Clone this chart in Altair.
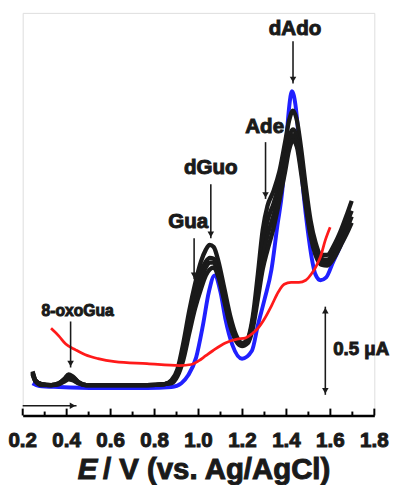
import altair as alt
import pandas as pd

# ---------------- data (E in V, current in µA, arbitrary offset) ----------------
black_E = [0.245, 0.258, 0.285, 0.329, 0.365, 0.392, 0.409, 0.427, 0.454, 0.490,
           0.588, 0.766, 0.846, 0.877, 0.904, 0.931, 0.958, 0.984, 1.011, 1.033,
           1.051, 1.069, 1.091, 1.118, 1.145, 1.171, 1.198, 1.225, 1.247, 1.270,
           1.292, 1.314, 1.341, 1.368, 1.394, 1.412, 1.430, 1.448, 1.466, 1.488,
           1.510, 1.532, 1.559, 1.586, 1.617, 1.648, 1.675, 1.697]
black_1 = [0.089, 0.039, 0.017, 0.011, 0.022, 0.050, 0.072, 0.061, 0.028, 0.011,
           0.011, 0.011, 0.017, 0.039, 0.100, 0.250, 0.433, 0.583, 0.711, 0.778,
           0.806, 0.794, 0.711, 0.556, 0.400, 0.294, 0.250, 0.278, 0.400, 0.639,
           0.889, 1.028, 1.111, 1.222, 1.389, 1.511, 1.567, 1.511, 1.361, 1.139,
           0.944, 0.822, 0.750, 0.750, 0.806, 0.889, 0.978, 1.056]
black_2 = [0.083, 0.039, 0.017, 0.011, 0.022, 0.044, 0.061, 0.056, 0.028, 0.011,
           0.011, 0.011, 0.017, 0.033, 0.089, 0.222, 0.400, 0.544, 0.656, 0.711,
           0.733, 0.728, 0.656, 0.517, 0.378, 0.283, 0.244, 0.272, 0.378, 0.583,
           0.806, 0.944, 1.039, 1.156, 1.306, 1.417, 1.461, 1.417, 1.278, 1.083,
           0.900, 0.789, 0.728, 0.722, 0.772, 0.856, 0.933, 1.000]
black_3 = [0.078, 0.033, 0.017, 0.011, 0.017, 0.039, 0.050, 0.044, 0.022, 0.011,
           0.011, 0.011, 0.017, 0.028, 0.078, 0.194, 0.361, 0.500, 0.611, 0.678,
           0.706, 0.706, 0.639, 0.500, 0.361, 0.272, 0.239, 0.261, 0.356, 0.544,
           0.733, 0.861, 0.972, 1.100, 1.261, 1.372, 1.428, 1.383, 1.250, 1.056,
           0.878, 0.767, 0.711, 0.706, 0.750, 0.828, 0.900, 0.967]
black_4 = [0.072, 0.033, 0.011, 0.011, 0.017, 0.033, 0.044, 0.039, 0.022, 0.011,
           0.011, 0.011, 0.017, 0.022, 0.061, 0.156, 0.306, 0.444, 0.556, 0.633,
           0.667, 0.678, 0.622, 0.483, 0.344, 0.261, 0.233, 0.250, 0.333, 0.500,
           0.667, 0.778, 0.900, 1.056, 1.222, 1.344, 1.400, 1.361, 1.222, 1.028,
           0.856, 0.750, 0.694, 0.689, 0.733, 0.806, 0.872, 0.933]

blue_E = [0.245, 0.276, 0.365, 0.543, 0.766, 0.877, 0.922, 0.953, 0.989, 1.020,
          1.047, 1.073, 1.100, 1.122, 1.154, 1.198, 1.243, 1.270, 1.301, 1.332,
          1.359, 1.381, 1.399, 1.412, 1.425, 1.443, 1.461, 1.479, 1.497, 1.515,
          1.532, 1.555, 1.581, 1.613, 1.648, 1.693]
blue_I = [0.022, 0.006, 0.000, -0.006, -0.006, 0.000, 0.022, 0.067, 0.167, 0.350,
          0.539, 0.633, 0.539, 0.389, 0.239, 0.161, 0.206, 0.350, 0.500, 0.667,
          0.917, 1.111, 1.389, 1.583, 1.678, 1.583, 1.333, 1.083, 0.889, 0.733,
          0.639, 0.606, 0.622, 0.711, 0.806, 0.928]

red_E = [0.329, 0.365, 0.396, 0.441, 0.485, 0.543, 0.619, 0.766, 0.913, 0.967,
         1.002, 1.033, 1.065, 1.122, 1.176, 1.212, 1.247, 1.270, 1.301, 1.332,
         1.363, 1.390, 1.421, 1.457, 1.488, 1.515, 1.537, 1.555, 1.577, 1.599]
red_I = [0.333, 0.289, 0.244, 0.211, 0.183, 0.161, 0.144, 0.133, 0.122, 0.128,
         0.150, 0.178, 0.206, 0.250, 0.272, 0.278, 0.306, 0.333, 0.389, 0.461,
         0.539, 0.583, 0.594, 0.594, 0.606, 0.644, 0.689, 0.739, 0.833, 0.906]

# annotations
peak_labels = ["dAdo", "Ade", "dGuo", "Gua"]
peak_label_E = [1.439, 1.301, 1.056, 0.953]
peak_label_I = [2.028, 1.472, 1.239, 0.933]
arrow_E = [1.430, 1.305, 1.056, 0.980, 0.418]
arrow_top = [1.961, 1.389, 1.150, 0.844, 0.372]
arrow_tip = [1.722, 1.067, 0.844, 0.611, 0.111]
oxo_label = ["8-oxoGua"]
oxo_E = [0.450]
oxo_I = [0.428]
scalebar_E = [1.577]
scalebar_lo = [-0.044]
scalebar_hi = [0.456]
scalebar_text = ["0.5 \u03bcA"]
scalebar_text_E = [1.613]
scalebar_text_I = [0.217]
sweep_start = [0.2]
sweep_end = [0.445]
sweep_I = [-0.106]

tick_major = [0.2, 0.4, 0.6, 0.8, 1.0, 1.2, 1.4, 1.6, 1.8]
tick_labels = ["0.2", "0.4", "0.6", "0.8", "1.0", "1.2", "1.4", "1.6", "1.8"]
tick_minor = [0.3, 0.5, 0.7, 0.9, 1.1, 1.3, 1.5, 1.7]

# ---------------- frames ----------------
rows = []
for name, ys_ in [("s1", black_1), ("s2", black_2), ("s3", black_3), ("s4", black_4)]:
    for i, (e, v) in enumerate(zip(black_E, ys_)):
        rows.append({"series": name, "E": e, "I": v, "i": i})
black_df = pd.DataFrame(rows)
blue_df = pd.DataFrame({"E": blue_E, "I": blue_I, "i": range(len(blue_E))})
red_df = pd.DataFrame({"E": red_E, "I": red_I, "i": range(len(red_E))})
labels_df = pd.DataFrame({"E": peak_label_E, "I": peak_label_I, "t": peak_labels})
arrows_df = pd.DataFrame({"E": arrow_E, "I": arrow_top, "I2": arrow_tip})
oxo_df = pd.DataFrame({"E": oxo_E, "I": oxo_I, "t": oxo_label})
sb_df = pd.DataFrame({"E": scalebar_E, "I": scalebar_lo, "I2": scalebar_hi})
sbt_df = pd.DataFrame({"E": scalebar_text_E, "I": scalebar_text_I, "t": scalebar_text})
sweep_df = pd.DataFrame({"E": sweep_start, "E2": sweep_end, "I": sweep_I})
major_df = pd.DataFrame({"E": tick_major, "t": tick_labels})
minor_df = pd.DataFrame({"E": tick_minor})

FONT = "Liberation Sans"
INK = "#1a1a1a"

xaxis = alt.Axis(values=tick_major, title=None, ticks=False, grid=False, labels=False,
                 domainColor="black", domainWidth=2.5)
xs = alt.Scale(domain=[0.2, 1.8], nice=False, zero=False)
ys = alt.Scale(domain=[-0.161, 2.122], nice=False, zero=False)
X = alt.X("E:Q", scale=xs, axis=xaxis)
Y = alt.Y("I:Q", scale=ys, axis=None)


def bold_text(df, size, **kw):
    return alt.Chart(df).mark_text(font=FONT, fontSize=size, fontWeight="bold", color=INK,
                                   stroke=INK, strokeWidth=1.0, baseline="middle", **kw)


blue = alt.Chart(blue_df).mark_line(color="#2020ff", strokeWidth=4, interpolate="monotone").encode(
    x=X, y=Y, order="i:Q")
black = alt.Chart(black_df).mark_line(color=INK, strokeWidth=4.4, interpolate="monotone").encode(
    x=X, y=Y, detail="series:N", order="i:Q")
red = alt.Chart(red_df).mark_line(color="#ff1a1a", strokeWidth=2.8, interpolate="monotone").encode(
    x=X, y=Y, order="i:Q")

labels = bold_text(labels_df, 21).encode(x=X, y=Y, text="t:N")
oxo = bold_text(oxo_df, 16).encode(x=X, y=Y, text="t:N")
arrows = alt.Chart(arrows_df).mark_rule(color=INK, strokeWidth=1.6).encode(x=X, y=Y, y2="I2:Q")
heads = alt.Chart(arrows_df).mark_point(shape="triangle-down", filled=True, size=45, color=INK,
                                        opacity=1, yOffset=-4).encode(x=X, y=alt.Y("I2:Q", scale=ys, axis=None))
sb = alt.Chart(sb_df).mark_rule(color=INK, strokeWidth=1.6).encode(x=X, y=Y, y2="I2:Q")
sb_lo = alt.Chart(sb_df).mark_point(shape="triangle-down", filled=True, size=45, color=INK,
                                    opacity=1, yOffset=-4).encode(x=X, y=Y)
sb_hi = alt.Chart(sb_df).mark_point(shape="triangle-up", filled=True, size=45, color=INK,
                                    opacity=1, yOffset=4).encode(x=X, y=alt.Y("I2:Q", scale=ys, axis=None))
sbt = bold_text(sbt_df, 19, align="left").encode(x=X, y=Y, text="t:N")
sweep = alt.Chart(sweep_df).mark_rule(color=INK, strokeWidth=1.6).encode(x=X, x2="E2:Q", y=Y)
sweep_head = alt.Chart(sweep_df).mark_point(shape="triangle-right", filled=True, size=45, color=INK,
                                            opacity=1, xOffset=-4).encode(x=alt.X("E2:Q", scale=xs, axis=xaxis), y=Y)

major = alt.Chart(major_df).mark_rule(color="black", strokeWidth=2).encode(
    x=X, y=alt.value(411), y2=alt.value(404))
minor = alt.Chart(minor_df).mark_rule(color="black", strokeWidth=2).encode(
    x=X, y=alt.value(411), y2=alt.value(407))
tick_text = bold_text(major_df, 21).encode(x=X, y=alt.value(437), text="t:N")

title_E = bold_text(pd.DataFrame({"E": [0.540], "t": ["E"]}), 30,
                    fontStyle="italic", align="right").encode(x=X, y=alt.value(467), text="t:N")
title_rest = bold_text(pd.DataFrame({"E": [0.565], "t": ["/ V (vs. Ag/AgCl)"]}), 30,
                       align="left").encode(x=X, y=alt.value(467), text="t:N")

chart = alt.layer(
    blue, black, red, major, minor, tick_text, arrows, heads, labels, oxo, sb, sb_lo, sb_hi, sbt,
    sweep, sweep_head, title_E, title_rest
).properties(
    width=359, height=411,
    autosize=alt.AutoSizeParams(type="none"),
    padding={"left": 15, "top": 0, "right": 16, "bottom": 66},
).configure_view(stroke=None).configure(background="white")

chart.save("out.html", embed_options={"renderer": "svg", "actions": False})
